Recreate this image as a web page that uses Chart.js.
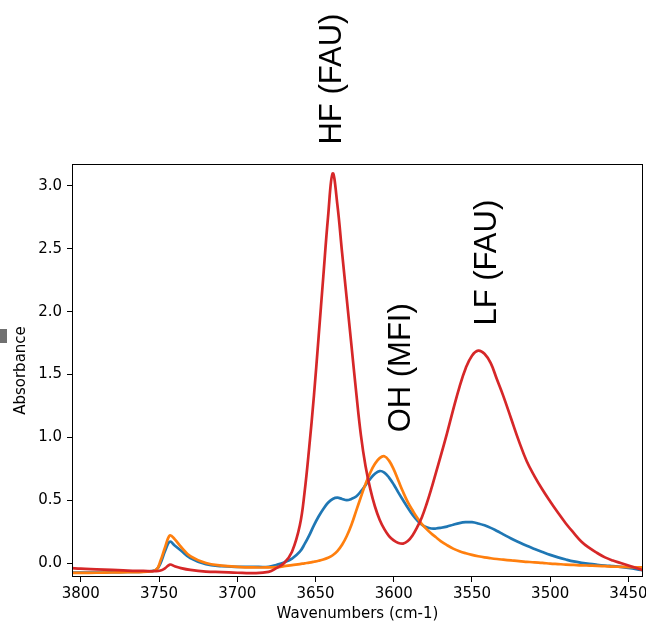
<!DOCTYPE html>
<html>
<head>
<meta charset="utf-8">
<script src="https://cdn.jsdelivr.net/npm/chart.js@4"></script>
<style>
  html, body { margin: 0; padding: 0; background: #fff; }
  #wrap { position: relative; width: 646px; height: 624px; }
</style>
</head>
<body>
<div id="wrap"><canvas id="spectra" width="646" height="624"></canvas></div>
<script>
// wavenumber grid (cm-1), shared by the three spectra
const wavenumbers = [
  3806, 3800, 3790, 3780, 3770, 3760, 3752, 3749, 3746, 3743,
  3740, 3736, 3730, 3720, 3710, 3700, 3690, 3680, 3675, 3670,
  3665, 3660, 3657, 3654, 3651, 3648, 3645, 3642, 3639, 3636,
  3633, 3630, 3627, 3624, 3621, 3618, 3615, 3612, 3609, 3606,
  3603, 3600, 3597, 3594, 3591, 3588, 3585, 3582, 3579, 3576,
  3573, 3570, 3566, 3562, 3558, 3554, 3550, 3546, 3542, 3538,
  3534, 3530, 3525, 3520, 3515, 3510, 3505, 3500, 3495, 3490,
  3485, 3480, 3475, 3470, 3465, 3460, 3455, 3450, 3445, 3440
];

const blueSpectrum = [
  -0.075, -0.075, -0.075, -0.073, -0.07, -0.068, -0.055, 0.0, 0.1, 0.17,
  0.14, 0.1, 0.04, -0.01, -0.025, -0.03, -0.03, -0.03, -0.015, 0.005,
  0.035, 0.09, 0.15, 0.22, 0.3, 0.37, 0.43, 0.48, 0.51, 0.52,
  0.51, 0.5, 0.51, 0.53, 0.57, 0.62, 0.67, 0.71, 0.732, 0.72,
  0.68, 0.625, 0.56, 0.5, 0.44, 0.385, 0.34, 0.305, 0.285, 0.275,
  0.275, 0.28, 0.29, 0.305, 0.318, 0.325, 0.325, 0.315, 0.3, 0.28,
  0.255, 0.228, 0.195, 0.165, 0.137, 0.112, 0.088, 0.065, 0.045, 0.028,
  0.013, 0.002, -0.007, -0.014, -0.02, -0.025, -0.03, -0.038, -0.048, -0.06
];

const orangeSpectrum = [
  -0.078, -0.078, -0.077, -0.075, -0.073, -0.07, -0.055, 0.02, 0.13, 0.22,
  0.19, 0.13, 0.055, 0.0, -0.02, -0.03, -0.035, -0.035, -0.033, -0.025,
  -0.016, -0.008, -0.002, 0.003, 0.01, 0.018, 0.028, 0.042, 0.062, 0.095,
  0.145, 0.215, 0.305, 0.415, 0.525, 0.63, 0.72, 0.79, 0.835, 0.85,
  0.815, 0.745, 0.655, 0.565, 0.485, 0.42, 0.36, 0.31, 0.27, 0.235,
  0.205, 0.175, 0.143, 0.115, 0.094, 0.078, 0.065, 0.054, 0.045, 0.038,
  0.032, 0.027, 0.021, 0.015, 0.01, 0.005, 0.001, -0.004, -0.008, -0.012,
  -0.015, -0.018, -0.02, -0.022, -0.025, -0.028, -0.03, -0.032, -0.034, -0.035
];

const redSpectrum = [
  -0.04, -0.045, -0.05, -0.055, -0.06, -0.063, -0.065, -0.06, -0.04, -0.012,
  -0.025, -0.04, -0.055, -0.068, -0.072, -0.077, -0.08, -0.07, -0.04, 0.0,
  0.09, 0.3, 0.56, 0.92, 1.33, 1.8, 2.28, 2.75, 3.1, 2.85,
  2.47, 2.1, 1.73, 1.36, 1.02, 0.77, 0.59, 0.45, 0.345, 0.27,
  0.215, 0.18, 0.16, 0.155, 0.175, 0.22, 0.285, 0.365, 0.47, 0.59,
  0.72, 0.85, 1.03, 1.22, 1.4, 1.55, 1.65, 1.69, 1.665, 1.59,
  1.46, 1.33, 1.15, 0.97, 0.81, 0.69, 0.585, 0.49, 0.4, 0.315,
  0.24, 0.17, 0.12, 0.08, 0.045, 0.02, 0.0, -0.02, -0.04, -0.06
];

const xTicks = [3800, 3750, 3700, 3650, 3600, 3550, 3500, 3450];
const yTicks = [0, 0.5, 1.0, 1.5, 2.0, 2.5, 3.0];

const peakLabels = ['HF (FAU)', 'OH (MFI)', 'LF (FAU)'];
const peakLabelX = [3639, 3595, 3540];
const peakLabelY = [3.33, 1.04, 1.89];

const toPoints = values => wavenumbers.map((w, i) => ({ x: w, y: values[i] }));

// frame, peak labels and the little grey mark at the left edge
const decorations = {
  id: 'decorations',
  afterDatasetsDraw(chart) {
    const { ctx, chartArea: a } = chart;
    ctx.save();
    ctx.strokeStyle = '#000';
    ctx.lineWidth = 1;
    ctx.strokeRect(a.left + 0.5, a.top + 0.5, a.right - a.left - 1, a.bottom - a.top - 1);
    ctx.restore();
  },
  afterDraw(chart) {
    const { ctx, scales: { x, y } } = chart;
    ctx.save();
    ctx.fillStyle = '#707070';
    ctx.fillRect(0, 329, 7, 14);
    ctx.font = '31px "Liberation Sans", Arial, sans-serif';
    ctx.fillStyle = '#000';
    ctx.textAlign = 'left';
    ctx.textBaseline = 'middle';
    peakLabels.forEach((label, i) => {
      ctx.save();
      ctx.translate(x.getPixelForValue(peakLabelX[i]), y.getPixelForValue(peakLabelY[i]));
      ctx.rotate(-Math.PI / 2);
      ctx.fillText(label, 0, 0);
      ctx.restore();
    });
    ctx.restore();
  }
};

const tickFont = { family: '"DejaVu Sans", sans-serif', size: 15 };

new Chart(document.getElementById('spectra'), {
  type: 'line',
  data: {
    datasets: [
      { label: 'blue', data: toPoints(blueSpectrum), borderColor: '#1f77b4', order: 2 },
      { label: 'orange', data: toPoints(orangeSpectrum), borderColor: '#ff7f0e', order: 1 },
      { label: 'red', data: toPoints(redSpectrum), borderColor: '#d62728', order: 0 }
    ]
  },
  options: {
    responsive: false,
    animation: false,
    devicePixelRatio: 1,
    layout: { padding: { top: 164, right: 3, left: 0, bottom: 0 } },
    elements: {
      point: { radius: 0 },
      line: { borderWidth: 2.7, tension: 0.4, fill: false }
    },
    plugins: { legend: { display: false }, tooltip: { enabled: false } },
    scales: {
      x: {
        type: 'linear',
        reverse: true,
        min: 3440.7,
        max: 3805.6,
        afterBuildTicks: axis => { axis.ticks = xTicks.map(v => ({ value: v })); },
        afterFit: axis => { axis.height = 47; axis.paddingLeft = 0; axis.paddingRight = 0; },
        border: { display: false },
        grid: { drawOnChartArea: false, drawTicks: true, tickLength: 5, color: '#000' },
        ticks: { font: tickFont, color: '#000', padding: 3, maxRotation: 0, callback: v => String(v) },
        title: { display: true, text: 'Wavenumbers (cm-1)', font: tickFont, color: '#000', padding: { top: 0, bottom: 1 } }
      },
      y: {
        type: 'linear',
        min: -0.111,
        max: 3.175,
        afterBuildTicks: axis => { axis.ticks = yTicks.map(v => ({ value: v })); },
        afterFit: axis => { axis.width = 72; axis.paddingTop = 0; axis.paddingBottom = 0; },
        border: { display: false },
        grid: { drawOnChartArea: false, drawTicks: true, tickLength: 5, color: '#000' },
        ticks: { font: tickFont, color: '#000', padding: 5, callback: v => v.toFixed(1) },
        title: { display: true, text: 'Absorbance', font: tickFont, color: '#000', padding: { top: 12, bottom: 0 } }
      }
    }
  },
  plugins: [decorations]
});
</script>
</body>
</html>
